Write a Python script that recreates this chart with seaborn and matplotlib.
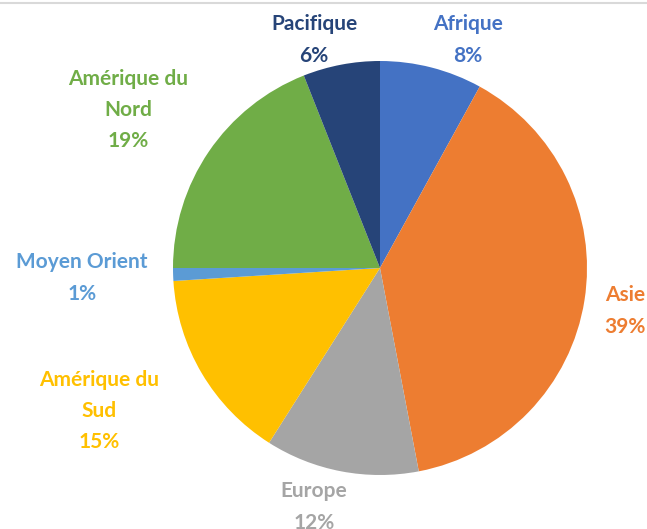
import matplotlib
matplotlib.use("Agg")
import matplotlib.pyplot as plt
import seaborn as sns
from matplotlib.lines import Line2D

sns.set_theme(style="white")
plt.rcParams['font.family'] = ['Lato', 'DejaVu Sans']

regions = ["Afrique", "Asie", "Europe", "Amérique du\nSud", "Moyen Orient",
           "Amérique du\nNord", "Pacifique"]
shares = [8, 39, 12, 15, 1, 19, 6]
colors = ["#4472C4", "#ED7D31", "#A5A5A5", "#FFC000", "#5B9BD5", "#70AD47", "#264478"]
# label centres in pixels (layout)
label_px = [(468, 40), (625, 311), (314, 507), (99, 411), (82, 278), (128, 110), (314, 40)]

W, H = 647, 529
cx, cy, R = 380, 268, 207

fig = plt.figure(figsize=(W / 100, H / 100), dpi=100)
ax = fig.add_axes([0, 0, 1, 1])
wedges, _ = ax.pie(shares, colors=colors, startangle=90, counterclock=False,
                   radius=1, center=(0, 0),
                   wedgeprops=dict(linewidth=0))
ax.set_xlim(-cx / R, (W - cx) / R)
ax.set_ylim(-(H - cy) / R, cy / R)
ax.set_aspect('auto')
ax.axis('off')

for name, val, col, (px, py) in zip(regions, shares, colors, label_px):
    ax.text((px - cx) / R, (cy - py) / R, f"{name}\n{val}%", color=col,
            ha='center', va='center', fontsize=15, fontweight='bold',
            linespacing=1.7)

fig.add_artist(Line2D([0, 1], [1 - 3 / H, 1 - 3 / H], color="#D9D9D9", lw=1.5,
                      transform=fig.transFigure))

fig.savefig("out.png", dpi=100)
